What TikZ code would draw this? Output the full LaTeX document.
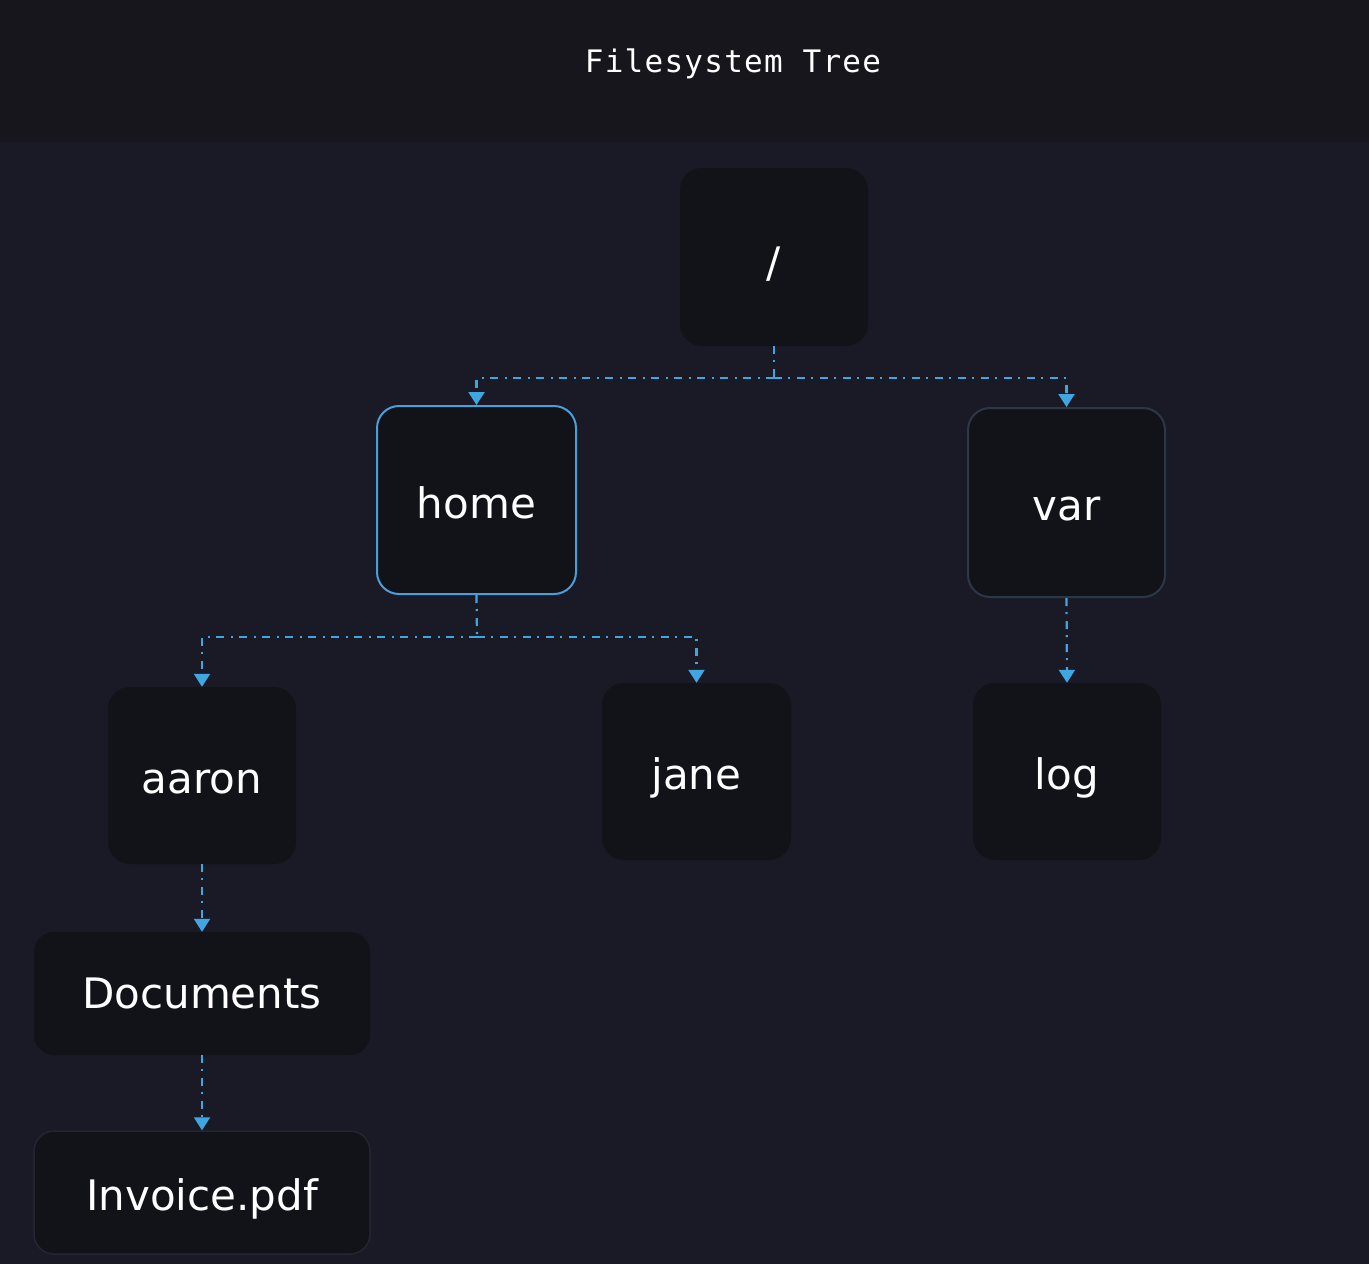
\documentclass[tikz,border=0pt]{standalone}
\usepackage{fontspec}
\setmainfont{DejaVu Sans}
\newfontfamily\titlefont[LetterSpace=4]{DejaVu Sans Mono}
\usetikzlibrary{arrows.meta,positioning}
\definecolor{bgmain}{HTML}{191A26}
\definecolor{bghead}{HTML}{16161C}
\definecolor{boxfill}{HTML}{121219}
\definecolor{linkblue}{HTML}{3FA6E2}
\definecolor{activeborder}{HTML}{4A9FD8}
\definecolor{dimborder}{HTML}{2C3747}
\definecolor{faintborder}{HTML}{242532}
\tikzset{
  x=1pt, y=-1pt,
  fsnode/.style={fill=boxfill, draw=none, rounded corners=22pt, text=white,
    font=\fontsize{42}{50}\selectfont, inner sep=0pt, anchor=center,
    text height=36pt, text depth=0pt},
  conn/.style={draw=linkblue, line width=2.2pt, dash pattern=on 8pt off 6pt on 2pt off 7pt},
  connarrow/.style={conn, -{Triangle[width=16pt,length=13pt]}},
}
\begin{document}
\begin{tikzpicture}
\useasboundingbox (0,0) rectangle (1369,1264);
\fill[bgmain] (0,0) rectangle (1369,1264);
\fill[bghead] (0,0) rectangle (1369,142);
\node[text=white, font=\titlefont\fontsize{31}{36}\selectfont] (title) at (733,64) {Filesystem Tree};

\node[fsnode, minimum width=188pt, minimum height=178pt, text height=40pt] (root) at (774,257) {/};
\node[fsnode, minimum width=199pt, minimum height=188pt, draw=activeborder, line width=2pt] (home) at (476.5,500) {home};
\node[fsnode, minimum width=197pt, minimum height=189pt, draw=dimborder, line width=2pt] (var) at (1066.5,502.5) {var};
\node[fsnode, minimum width=188pt, minimum height=177pt] (aaron) at (202,775.5) {aaron};
\node[fsnode, minimum width=189pt, minimum height=177pt] (jane) at (696.5,771.5) {jane};
\node[fsnode, minimum width=188pt, minimum height=177pt] (log) at (1067,771.5) {log};
\node[fsnode, minimum width=336pt, minimum height=123pt, rounded corners=20pt, text height=30pt] (docs) at (202,993.5) {Documents};
\node[fsnode, minimum width=336pt, minimum height=123pt, rounded corners=20pt, draw=faintborder, line width=1.5pt, text height=35pt] (inv) at (202,1192.5) {Invoice.pdf};

\coordinate (j1) at (774,378);
\coordinate (j2) at (477,637);
\draw[conn] (root.south) -- (j1);
\draw[connarrow] (j1) -| (home.north);
\draw[connarrow] (j1) -| (var.north);
\draw[conn] (home.south) -- (j2);
\draw[connarrow] (j2) -| (aaron.north);
\draw[connarrow] (j2) -| (jane.north);
\draw[connarrow] (var.south) -- (log.north);
\draw[connarrow] (aaron.south) -- (docs.north);
\draw[connarrow] (docs.south) -- (inv.north);
\end{tikzpicture}
\end{document}
